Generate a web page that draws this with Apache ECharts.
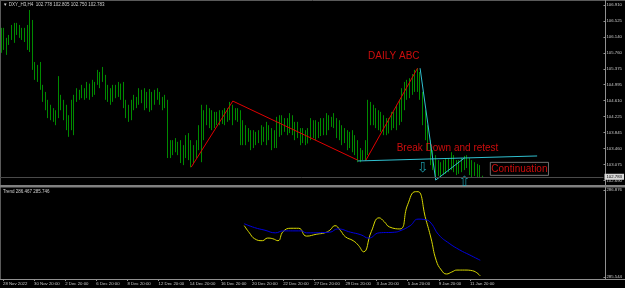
<!DOCTYPE html>
<html>
<head>
<meta charset="utf-8">
<script src="https://cdn.jsdelivr.net/npm/echarts@6/dist/echarts.min.js"></script>
<style>
  html, body { margin: 0; padding: 0; background: #000; }
  #chart { width: 625px; height: 288px; }
</style>
</head>
<body>
<div id="chart"></div>
<script>
// H4 bars, [open, close, low, high]
const bars = [
  [106.25,105.90,105.76,106.36],[105.90,106.20,105.83,106.36],[106.10,105.85,105.71,106.12],[105.95,106.15,105.95,106.19],
  [106.15,106.35,106.07,106.43],[106.35,106.10,106.00,106.48],[106.20,106.40,106.19,106.48],[106.40,106.20,106.12,106.43],
  [106.20,106.30,106.07,106.36],[106.30,106.10,106.02,106.36],[106.10,106.30,105.83,106.43],[106.30,106.55,105.78,106.79],
  [106.55,105.50,105.35,106.55],[105.50,105.30,105.11,105.54],[105.30,105.40,105.06,105.47],[105.40,104.95,104.87,105.54],
  [104.95,104.65,104.58,104.99],[104.65,104.45,104.38,104.82],[104.45,104.30,104.19,104.63],[104.30,104.40,104.14,104.51],
  [104.40,104.20,104.10,104.43],[104.20,104.30,104.02,104.38],[104.30,104.90,104.19,105.20],[104.70,104.45,104.38,104.75],
  [104.45,104.25,104.14,104.63],[104.25,104.00,103.90,104.51],[104.00,103.85,103.74,104.26],[103.90,104.50,103.90,104.63],
  [104.50,104.70,103.78,104.75],[104.70,104.85,104.58,104.91],[104.85,104.70,104.63,104.87],[104.70,104.90,104.67,104.99],
  [104.90,104.75,104.63,104.91],[104.75,105.00,104.67,105.06],[105.00,104.70,104.63,105.02],[104.70,105.05,104.70,105.11],
  [105.05,104.85,104.75,105.06],[105.00,105.30,104.99,105.35],[105.30,105.10,104.91,105.30],[105.10,105.35,105.06,105.42],
  [105.20,104.70,104.63,105.23],[104.70,104.90,104.58,104.99],[104.90,104.60,104.51,104.91],[104.60,104.90,104.58,104.99],
  [104.90,104.75,104.67,104.99],[104.75,105.00,104.70,105.06],[105.00,104.70,104.63,105.02],[104.70,104.50,104.43,105.06],
  [104.50,104.25,104.19,104.63],[104.25,104.20,104.10,104.51],[104.20,104.55,104.14,104.63],[104.55,104.45,104.38,104.75],
  [104.45,104.65,104.43,104.70],[104.65,104.85,104.51,104.91],[104.85,104.60,104.55,104.87],[104.60,104.80,104.38,104.91],
  [104.80,104.50,104.43,104.82],[104.50,104.80,104.34,104.89],[104.80,104.55,104.38,104.82],[104.55,104.80,104.51,104.87],
  [104.80,104.70,104.63,104.91],[104.70,104.60,104.51,104.82],[104.60,104.45,104.38,104.70],[104.45,104.65,104.43,104.75],
  [104.60,103.40,103.23,104.63],[103.40,103.55,103.23,103.66],[103.55,103.40,103.30,103.66],[103.40,103.60,103.37,103.71],
  [103.60,103.40,103.30,103.62],[103.40,103.20,103.11,103.66],[103.20,103.45,103.06,103.54],[103.45,103.70,103.23,103.78],
  [103.70,103.25,103.18,103.83],[103.25,103.10,103.01,103.66],[103.10,103.40,103.08,103.54],[103.40,103.55,103.23,103.66],
  [103.55,103.95,103.42,104.02],[103.95,104.40,103.13,104.51],[104.30,103.80,103.66,104.38],[104.05,104.40,104.02,104.51],
  [104.40,104.10,103.95,104.43],[104.10,104.30,103.90,104.38],[104.30,104.05,103.95,104.34],[104.05,104.25,104.02,104.34],
  [104.25,104.10,104.02,104.38],[104.10,104.30,104.05,104.38],[104.30,104.15,104.02,104.43],[104.15,104.40,104.10,104.43],
  [104.40,104.50,104.14,104.58],[104.50,104.15,104.02,104.51],[104.15,104.35,104.14,104.43],[104.35,104.20,104.10,104.43],
  [104.20,103.70,103.54,104.38],[103.70,103.95,103.54,104.14],[103.95,103.65,103.54,104.02],[103.65,103.85,103.62,103.95],
  [103.85,103.55,103.42,103.90],[103.55,103.80,103.47,103.90],[103.80,103.60,103.54,103.86],[103.60,103.85,103.59,103.90],
  [103.85,103.65,103.54,104.02],[103.65,103.90,103.62,103.98],[103.90,103.70,103.54,104.10],[103.70,103.95,103.66,104.02],
  [103.95,103.55,103.42,103.95],[103.55,103.70,103.47,103.90],[103.70,104.10,103.47,104.22],[104.10,103.85,103.74,104.26],
  [103.85,104.15,103.78,104.26],[104.15,103.95,103.86,104.19],[103.95,104.10,103.78,104.19],[104.10,104.20,103.83,104.31],
  [104.20,103.90,103.78,104.26],[103.90,103.75,103.66,104.10],[103.75,104.00,103.71,104.10],[103.95,103.60,103.54,103.95],
  [103.60,103.85,103.59,103.95],[103.85,103.60,103.54,103.90],[103.60,103.80,103.58,103.95],[103.80,104.10,103.66,104.19],
  [104.10,103.85,103.71,104.14],[103.85,104.05,103.66,104.14],[104.05,103.80,103.71,104.10],[103.80,104.10,103.76,104.19],
  [104.10,103.90,103.78,104.19],[103.90,104.20,103.78,104.31],[104.20,104.00,103.90,104.26],[104.00,104.15,103.98,104.22],
  [104.15,104.05,103.95,104.31],[104.05,103.80,103.71,104.19],[103.80,103.95,103.66,104.14],[103.95,103.65,103.54,104.02],
  [103.65,103.85,103.59,103.95],[103.85,103.55,103.42,103.90],[103.55,103.70,103.47,103.86],[103.70,103.45,103.37,103.90],
  [103.45,103.60,103.30,103.78],[103.60,103.25,103.13,103.66],[103.25,103.20,103.13,103.47],[103.20,103.35,103.18,103.42],
  [103.35,103.55,103.18,103.66],[103.55,104.50,103.30,104.63],[104.50,104.15,104.02,104.58],[104.15,104.40,104.02,104.51],
  [104.40,104.05,103.95,104.43],[104.05,104.30,103.90,104.38],[104.30,103.95,103.86,104.34],[103.95,104.15,103.78,104.26],
  [104.15,103.85,103.78,104.19],[103.85,104.10,103.82,104.19],[104.10,104.25,103.90,104.34],[104.25,104.05,103.95,104.34],
  [104.05,104.45,103.90,104.51],[104.45,104.55,104.02,104.63],[104.55,104.85,104.10,104.91],[104.85,104.95,104.38,105.06],
  [104.95,105.05,104.63,105.11],[105.05,104.90,104.67,105.15],[104.90,105.20,104.75,105.25],[105.20,105.10,104.82,105.35],
  [105.10,105.30,104.82,105.39],[105.30,104.70,104.63,105.30],[104.70,104.10,104.02,104.82],[104.10,103.75,103.66,104.38],
  [103.75,103.50,103.42,104.02],[103.50,103.15,103.06,103.66],[103.15,103.00,102.94,103.42],[103.00,102.85,102.75,103.30],
  [102.85,103.05,102.80,103.18],[103.05,102.90,102.75,103.13],[102.90,103.10,102.82,103.18],[103.10,102.95,102.85,103.23],
  [102.95,103.15,102.89,103.23],[103.15,103.25,102.94,103.37],[103.25,103.00,102.89,103.30],[103.00,102.90,102.82,103.18],
  [102.90,103.10,102.85,103.18],[103.10,103.00,102.89,103.23],[103.00,103.20,102.94,103.28],[103.20,103.05,102.99,103.30],
  [103.05,102.90,102.82,103.23],[102.90,103.05,102.75,103.18],[103.05,102.85,102.80,103.13],[102.85,102.95,102.75,103.09],
  [102.95,102.78,102.77,103.06],[102.778,102.783,102.750,102.805]
];
const slotCount = 232; // bar slots incl. empty space on the right
const dateLabels = ['28 Nov 2022', '30 Nov 20:00', '2 Dec 20:00', '6 Dec 20:00', '8 Dec 20:00', '12 Dec 20:00',
  '14 Dec 20:00', '16 Dec 20:00', '20 Dec 20:00', '22 Dec 20:00', '27 Dec 20:00', '29 Dec 20:00',
  '3 Jan 20:00', '5 Jan 20:00', '9 Jan 20:00', '11 Jan 20:00'];
const priceTicks = [106.910, 106.525, 106.140, 105.760, 105.375, 104.995, 104.610, 104.225, 103.845, 103.460, 103.075, 102.690];
const lastPrice = 102.783;
const trendTicks = [286.876, 285.544];

// drawn objects: [bar index, price]
const abcDown = [[73, 103.01], [89, 104.60], [137, 103.18]];
const abcUp = [[140, 103.16], [160, 105.39]];
const breakLine = [[161, 105.39], [167, 102.70]];
const retestLine = [[167, 102.70], [178, 103.23]];
const levelLine = [[137, 103.16], [206, 103.28]];

// indicator window
const trendBars = [93, 95, 97, 100, 102, 104, 106, 108, 111, 114, 117, 121, 124, 126, 128, 130, 132, 135, 137, 139,
  142, 145, 147, 149, 153, 156, 159, 160, 163, 165, 167, 169, 171, 173, 175, 178, 181, 184];
const trendVals = [286.33, 286.22, 286.13, 286.10, 286.14, 286.13, 286.10, 286.24, 286.29, 286.29, 286.17, 286.20,
  286.22, 286.26, 286.33, 286.26, 286.16, 286.10, 286.03, 285.93, 286.24, 286.45, 286.39, 286.31, 286.28, 286.65,
  286.85, 286.85, 286.43, 286.14, 285.80, 285.65, 285.59, 285.62, 285.65, 285.65, 285.64, 285.56];
const signalBars = [93, 97, 101, 105, 108, 115, 117, 126, 129, 134, 138, 141, 145, 151, 153, 157, 160, 163, 165, 168, 172, 176, 180, 184];
const signalVals = [286.36, 286.30, 286.26, 286.22, 286.25, 286.25, 286.22, 286.23, 286.28, 286.23, 286.19, 286.14,
  286.22, 286.23, 286.25, 286.33, 286.43, 286.42, 286.37, 286.19, 286.06, 285.96, 285.88, 285.80];

const notes = [
  { text: 'DAILY ABC', bar: 141, price: 105.68, size: 10, color: '#ff1010' },
  { text: 'Break Down and retest', bar: 152, price: 103.47, size: 10, color: '#ff1010' },
  { text: 'Continuation', bar: 188, price: 102.97, size: 10, color: '#ff1010', box: true },
  { text: '\u21e9', bar: 162, price: 102.99, size: 14, color: '#20b8c8' },
  { text: '\u21e7', bar: 178, price: 102.64, size: 14, color: '#20b8c8' }
];

const cats = Array.from({ length: slotCount }, (_, i) => (i % 12 === 0 && dateLabels[i / 12]) ? dateLabels[i / 12] : '');
const pick = (xs, ys) => xs.map((x, k) => [x, ys[k]]);
const small = { fontFamily: 'Liberation Sans', fontSize: 4.3, color: '#c8c8c8' };

const chart = echarts.init(document.getElementById('chart'));
chart.setOption({
  animation: false,
  backgroundColor: '#000',
  grid: [
    { left: 0, top: 5, width: 605, height: 175.5 },
    { left: 0, top: 190, width: 605, height: 87 }
  ],
  xAxis: [
    { type: 'category', gridIndex: 0, data: cats, axisLine: { show: false }, axisTick: { show: false }, axisLabel: { show: false } },
    {
      type: 'category', gridIndex: 1, data: cats, offset: 2,
      axisLine: { show: false },
      axisTick: { show: true, alignWithLabel: true, length: 2, interval: (i, v) => v !== '', lineStyle: { color: '#909090' } },
      axisLabel: Object.assign({ interval: 11, align: 'left', margin: 3 }, small)
    }
  ],
  yAxis: [
    {
      type: 'value', gridIndex: 0, position: 'right', min: 102.690, max: 106.910,
      splitLine: { show: false }, axisLine: { show: false },
      axisTick: { show: true, length: 2, customValues: priceTicks, lineStyle: { color: '#909090' } },
      axisLabel: Object.assign({ customValues: priceTicks, margin: 3, formatter: v => v.toFixed(3) }, small)
    },
    {
      type: 'value', gridIndex: 1, position: 'right', min: 285.544, max: 286.876,
      splitLine: { show: false }, axisLine: { show: false },
      axisTick: { show: true, length: 2, customValues: trendTicks, lineStyle: { color: '#909090' } },
      axisLabel: Object.assign({ customValues: trendTicks, margin: 3, formatter: v => v.toFixed(3) }, small)
    }
  ],
  graphic: [
    { type: 'line', shape: { x1: 0, y1: 0.5, x2: 625, y2: 0.5 }, style: { stroke: '#5a5a5a', lineWidth: 1 } },
    { type: 'line', shape: { x1: 0.5, y1: 0, x2: 0.5, y2: 280 }, style: { stroke: '#5a5a5a', lineWidth: 1 } },
    { type: 'line', shape: { x1: 605.5, y1: 0, x2: 605.5, y2: 280 }, style: { stroke: '#909090', lineWidth: 1 } },
    { type: 'rect', shape: { x: 0, y: 185, width: 625, height: 2.5 }, style: { fill: '#808080' } },
    { type: 'line', shape: { x1: 0, y1: 279.5, x2: 625, y2: 279.5 }, style: { stroke: '#909090', lineWidth: 1 } },
    { type: 'text', left: 3, top: 2, style: { text: '\u25bc DXY_H3,H4  102.778 102.805 102.750 102.783', fill: '#d0d0d0', fontSize: 4.5, fontFamily: 'Liberation Sans' } },
    { type: 'text', left: 3, top: 189, style: { text: 'Trend 286.467 285.746', fill: '#d0d0d0', fontSize: 4.5, fontFamily: 'Liberation Sans' } }
  ],
  series: [
    {
      type: 'candlestick', xAxisIndex: 0, yAxisIndex: 0, data: bars, barWidth: 0.8,
      itemStyle: { color: '#008a00', color0: '#008a00', borderColor: '#008a00', borderColor0: '#008a00', borderWidth: 1 },
      markLine: {
        silent: true, symbol: 'none', data: [{ yAxis: lastPrice }],
        lineStyle: { color: '#4a4a4a', type: 'solid', width: 1 },
        label: { show: true, position: 'end', distance: 1, formatter: lastPrice.toFixed(3), backgroundColor: '#d8d8d8', color: '#000', padding: [1, 2], fontSize: 4.3, fontFamily: 'Liberation Sans' }
      }
    },
    { type: 'line', data: abcDown, symbol: 'none', lineStyle: { color: '#e00000', width: 1 } },
    { type: 'line', data: abcUp, symbol: 'none', lineStyle: { color: '#e00000', width: 1 } },
    { type: 'line', data: breakLine, symbol: 'none', lineStyle: { color: '#30c0d0', width: 1 } },
    { type: 'line', data: retestLine, symbol: 'none', lineStyle: { color: '#30c0d0', width: 1 } },
    {
      type: 'line', data: levelLine, symbol: 'rect', symbolSize: 3, clip: false,
      itemStyle: { color: '#30c0d0' }, lineStyle: { color: '#30c0d0', width: 1 }
    },
    {
      type: 'scatter', symbolSize: 0, clip: false, silent: true,
      data: notes.map(n => ({
        value: [n.bar, n.price],
        label: {
          show: true, position: 'right', distance: 0, formatter: n.text, color: n.color, fontSize: n.size,
          fontFamily: n.text.length > 1 ? 'Liberation Sans' : 'DejaVu Sans', align: n.text.length > 1 ? 'left' : 'center',
          borderColor: n.box ? '#8a8a8a' : 'transparent', borderWidth: n.box ? 1 : 0, padding: n.box ? [2, 1, 1, 1] : 0
        }
      }))
    },
    {
      type: 'line', xAxisIndex: 1, yAxisIndex: 1, data: pick(trendBars, trendVals), smooth: 0.5,
      symbol: 'none', lineStyle: { color: '#d8d800', width: 1 }
    },
    {
      type: 'line', xAxisIndex: 1, yAxisIndex: 1, data: pick(signalBars, signalVals), smooth: 0.5,
      symbol: 'none', lineStyle: { color: '#0000e0', width: 1 }
    }
  ]
});
window.onresize = function () { chart.resize(); };
</script>
</body>
</html>
